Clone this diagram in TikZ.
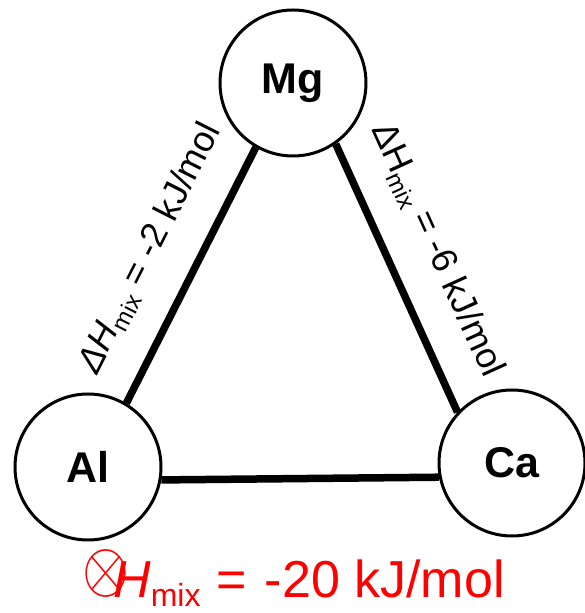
\documentclass[tikz,border=0pt]{standalone}
\usepackage{fontspec}
\setmainfont{Liberation Sans}
\newcommand{\sbs}[2]{\raisebox{-#1}{\fontsize{#2}{#2}\selectfont mix}}
\newcommand{\crossop}{\resizebox{47pt}{42pt}{$\otimes$}}
\begin{document}
\begin{tikzpicture}[x=1pt,y=1pt,
  elem/.style={circle, draw, line width=3pt, minimum size=146pt, inner sep=0pt,
    font=\fontsize{43}{43}\selectfont\bfseries},
  bond/.style={line width=7.5pt},
  lbl/.style={font=\fontsize{36}{36}\selectfont, sloped, inner sep=0pt}]
\useasboundingbox (0,0) rectangle (585,613);
\node[elem] (Mg) at (293,530) {Mg};
\node[elem] (Al) at (88,146) {Al};
\node[elem] (Ca) at (512,150) {Ca};
\draw[bond] (Al.59) -- node[lbl, pos=0.52, above=28pt] {\textit{ΔH}\sbs{7pt}{24} = -2 kJ/mol} (Mg.-120);
\draw[bond] (Mg.-55) -- node[lbl, pos=0.47, above=28pt] {ΔH\sbs{7pt}{24} = -6 kJ/mol} (Ca.137);
\draw[bond] (Al.-10) -- (Ca.191);
\node[anchor=base west, inner sep=0pt, text=red, font=\fontsize{52}{52}\selectfont] (tot) at (82,15)
  {\raisebox{6pt}{\crossop}\hspace{-16pt}\textit{H}\sbs{9pt}{32}\hspace{1pt} =\hspace{4pt} -20 kJ/mol};
\end{tikzpicture}
\end{document}
